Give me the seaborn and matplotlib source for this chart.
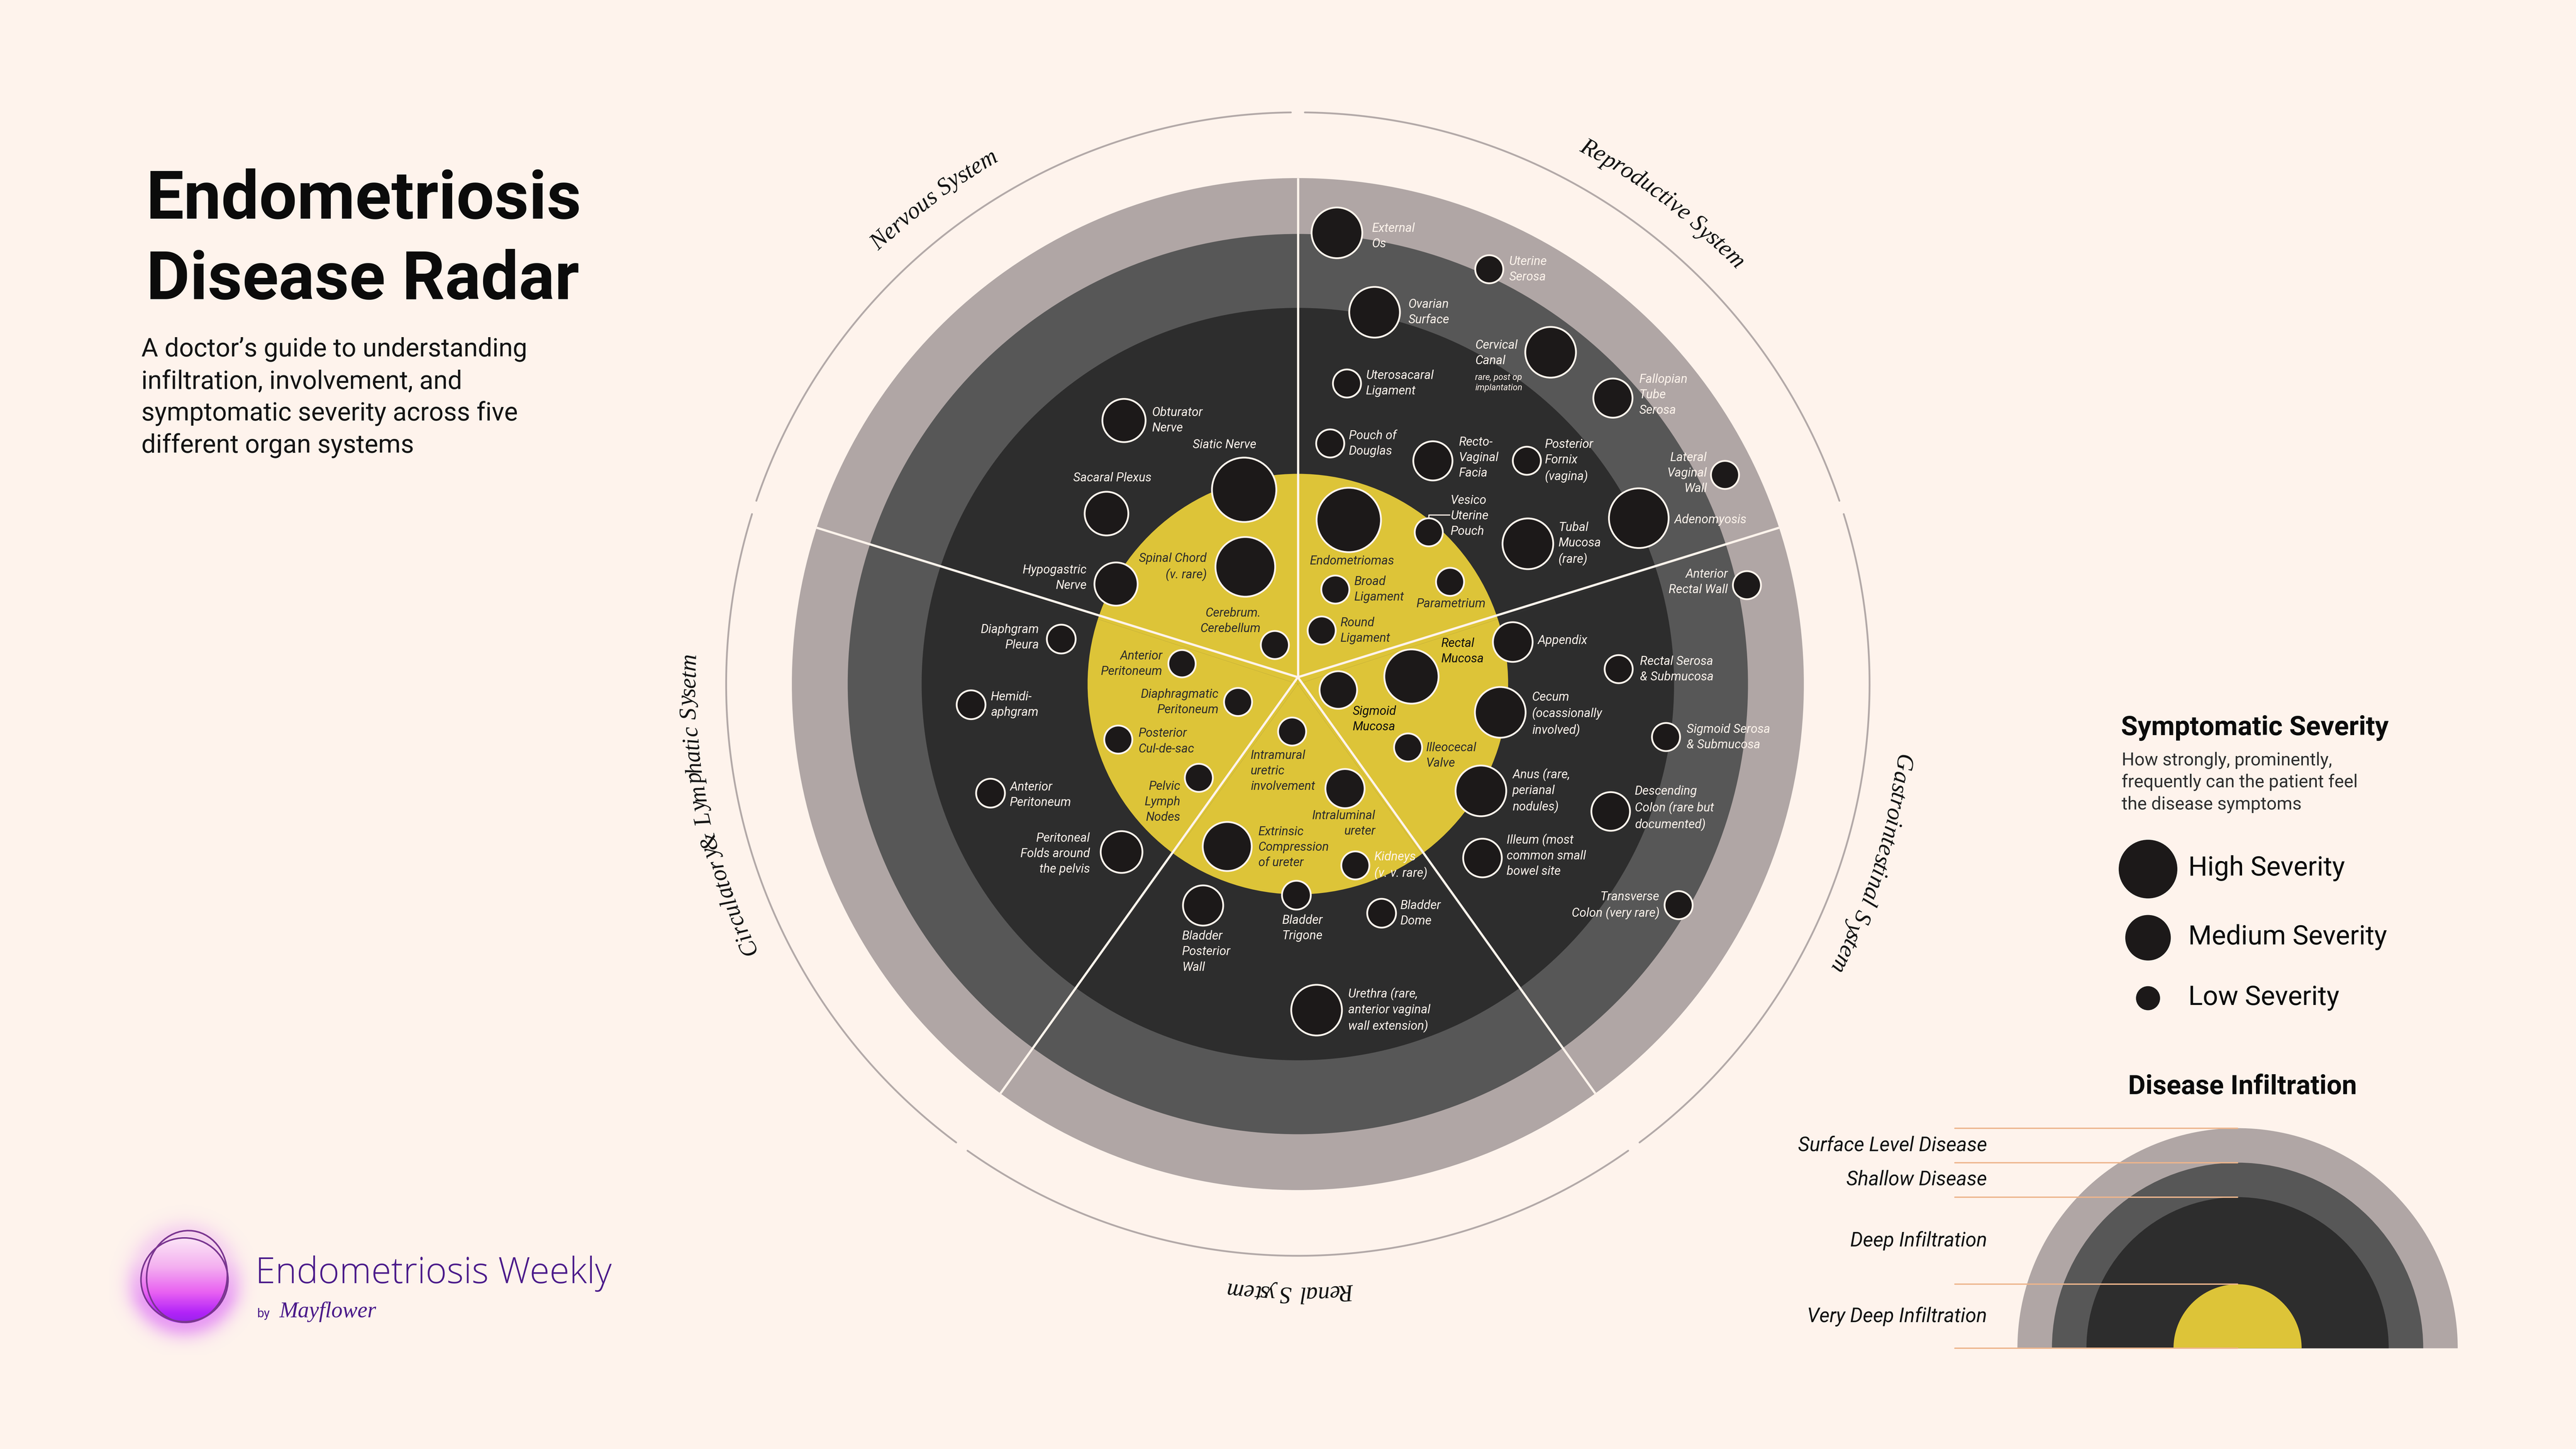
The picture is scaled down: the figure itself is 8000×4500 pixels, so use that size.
import numpy as np
import pandas as pd
import seaborn as sns
import matplotlib.pyplot as plt
from matplotlib.patches import Wedge, Ellipse
from matplotlib.font_manager import FontProperties, findfont, get_font

sns.set_theme(style="white")
plt.rcParams["font.family"] = ["Roboto", "DejaVu Sans"]

# layout units: the figure is 16 x 9 in, described on a 1568 x 882 grid
W, H = 1568, 882
PT = 16 * 72 / W  # points per layout unit

BG = "#FEF3EC"
LIGHT = "#B0A6A5"
MID = "#575757"
DARK = "#2D2D2D"
YELLOW = "#DDC438"
BUBBLE = "#1C1919"
CREAM = "#FFF4EC"
INK = "#0B0B0B"
PURPLE = "#4B1A8A"

# ---------------- data ----------------
systems = ["Reproductive System", "Nervous System", "Circulatory& Lymphatic Sysetm",
           "Renal System", "Gastrointestinal System"]
system_start = [18, 90, 162, 234, 306]          # degrees, each system spans 72
system_label_theta = [52.8, 126.9, 191.7, 269.2, 342.6]

depth_levels = ["Surface Level Disease", "Shallow Disease", "Deep Infiltration",
                "Very Deep Infiltration"]
depth_radius = [308, 274, 229, 128]
depth_colors = [LIGHT, MID, DARK, YELLOW]

organ = [
    "External\nOs", "Uterine\nSerosa", "Ovarian\nSurface", "Cervical\nCanal",
    "Fallopian\nTube\nSerosa", "Uterosacaral\nLigament", "Pouch of\nDouglas",
    "Recto-\nVaginal\nFacia", "Posterior\nFornix\n(vagina)", "Lateral\nVaginal\nWall",
    "Adenomyosis", "Tubal\nMucosa\n(rare)", "Endometriomas", "Vesico\nUterine\nPouch",
    "Broad\nLigament", "Parametrium", "Round\nLigament",
    "Anterior\nRectal Wall", "Rectal\nMucosa", "Sigmoid\nMucosa", "Appendix",
    "Rectal Serosa\n& Submucosa", "Cecum\n(ocassionally\ninvolved)", "Illeocecal\nValve",
    "Sigmoid Serosa\n& Submucosa", "Anus (rare,\nperianal\nnodules)",
    "Descending\nColon (rare but\ndocumented)", "Illeum (most\ncommon small\nbowel site",
    "Transverse\nColon (very rare)",
    "Intramural\nuretric\ninvolvement", "Intraluminal\nureter",
    "Extrinsic\nCompression\nof ureter", "Kidneys\n(v. v. rare)",
    "Bladder\nPosterior\nWall", "Bladder\nTrigone", "Bladder\nDome",
    "Urethra (rare,\nanterior vaginal\nwall extension)",
    "Diaphgram\nPleura", "Anterior\nPeritoneum", "Diaphragmatic\nPeritoneum",
    "Hemidi-\naphgram", "Posterior\nCul-de-sac", "Pelvic\nLymph\nNodes",
    "Anterior\nPeritoneum", "Peritoneal\nFolds around\nthe pelvis",
    "Obturator\nNerve", "Siatic Nerve", "Sacaral Plexus", "Spinal Chord\n(v. rare)",
    "Hypogastric\nNerve", "Cerebrum.\nCerebellum",
]
organ_system = (["Reproductive System"] * 17 + ["Gastrointestinal System"] * 12 +
                ["Renal System"] * 8 + ["Circulatory& Lymphatic Sysetm"] * 8 +
                ["Nervous System"] * 6)
organ_theta = [
    85.05, 65.23, 78.34, 52.70, 42.23, 80.72, 82.34, 58.83, 44.28, 26.09,
    25.95, 31.38, 72.76, 49.22, 68.37, 33.89, 66.02,
    12.42, 3.81, -8.33, 11.07, 2.67, -7.95, -29.91, -8.18, -30.26, -22.15, -43.29, -30.14,
    263.1, 294.29, 246.50, 287.59, 246.83, 269.6, 290.08, 273.29,
    169.23, 170.02, 196.67, 183.62, 197.18, 223.44, 199.54, 223.61,
    123.41, 105.45, 138.30, 114.14, 151.18, 120.47,
]
organ_depth = [
    275.7, 278.1, 231.1, 253.9, 259.0, 185.4, 147.8, 158.8, 194.7, 289.5,
    230.8, 164.0, 104.6, 122.0, 61.9, 111.6, 35.7,
    279.9, 69.3, 24.9, 133.3, 195.5, 124.4, 77.4, 226.4, 129.0, 205.6, 154.4, 268.0,
    29.1, 69.8, 107.8, 115.8, 146.6, 128.5, 148.5, 198.8,
    146.6, 71.6, 38.0, 199.3, 114.4, 83.0, 198.5, 148.2,
    192.2, 122.7, 156.0, 78.2, 126.3, 27.6,
]
organ_severity = [
    62, 19, 62, 62, 37, 19, 19, 37, 19, 19,
    86, 62, 100, 19, 19, 19, 19,
    19, 71, 34, 38, 19, 62, 19, 19, 62, 36, 36, 19,
    19, 37, 58, 19, 39, 20, 20, 62,
    20, 18, 19, 20, 19, 19, 20, 42,
    45, 100, 46, 86, 45, 19,
]

severity_levels = ["High Severity", "Medium Severity", "Low Severity"]
severity_legend = [83, 50, 14]
legend_radius = [134, 113, 92, 39]

# label placement: offset from bubble centre (layout units, y down), alignment, tone
label_layout = [
    (21.4, 2, "left", "light"), (12, 0, "left", "light"), (20.5, 0, "left", "light"),
    (-45.9, 0.5, "left", "light"), (16, -2, "left", "light"), (11.5, 0, "left", "light"),
    (11.3, 0, "left", "light"), (15.8, -2, "left", "light"), (11, 0, "left", "light"),
    (-11, -1, "right", "light"), (21.6, 1, "left", "light"), (18.7, 0, "left", "light"),
    (2, 25, "center", "dark"), (13.3, -10, "left", "light"), (11.5, 0, "left", "dark"),
    (0.6, 13.4, "center", "dark"), (11.4, 0, "left", "dark"),
    (-11.6, -2, "right", "light"), (18.2, -15.3, "left", "black"),
    (8.7, 17.8, "left", "black"), (15.2, -1, "left", "light"), (13, 0, "left", "light"),
    (19.3, 1, "left", "light"), (11, 5, "left", "dark"), (12.6, 0, "left", "light"),
    (19.2, 0, "left", "light"), (14.7, -2, "left", "light"), (14.7, -1.6, "left", "light"),
    (-11.6, 0, "right", "light"),
    (-25.3, 24, "left", "dark"), (18.4, 21.2, "right", "dark"), (19, 0.5, "left", "dark"),
    (11.5, 0, "left", "light"), (-12.8, 28.2, "left", "light"), (-8.7, 20, "left", "light"),
    (11.4, 0, "left", "light"), (19.3, 0, "left", "light"),
    (-13.5, -1, "right", "light"), (-11.9, 0, "right", "dark"), (-11.7, 0, "right", "dark"),
    (12, 0, "left", "light"), (12.3, 1, "left", "dark"), (-11.2, 14.6, "right", "dark"),
    (11.8, 1, "left", "light"), (-19.2, 1, "right", "light"),
    (17, 0, "left", "light"), (-12, -27.3, "center", "light"), (3.6, -21.6, "center", "light"),
    (-23.5, 0, "right", "dark"), (-17.8, -3.8, "right", "light"), (-8.5, -14.6, "right", "dark"),
]
tones = {"light": CREAM, "dark": "#2B2B2B", "black": "#0D0D0D"}

df = pd.DataFrame({"organ": organ, "system": organ_system,
                   "theta": np.deg2rad(organ_theta), "depth": organ_depth,
                   "severity": organ_severity})

# ---------------- figure ----------------
fig = plt.figure(figsize=(16, 9), dpi=500, facecolor=BG)
bg = fig.add_axes([0, 0, 1, 1])
bg.axis("off")

R_MAX = 390
cx, cy = 790, 416.4
ax = fig.add_axes([(cx - R_MAX) / W, 1 - (cy + R_MAX) / H, 2 * R_MAX / W, 2 * R_MAX / H],
                  projection="polar")
ax.set_facecolor("none")
ax.axis("off")

sector_mid = np.deg2rad(np.array(system_start) + 36)
for rad, col in zip(depth_radius, depth_colors):
    ax.bar(sector_mid, rad, width=np.deg2rad(72), bottom=0, color=col,
           edgecolor="none", linewidth=0, zorder=1)

# spokes between systems
hub_t, hub_r = np.pi / 2, 4.2
for b in system_start:
    ax.plot([hub_t, np.deg2rad(b)], [hub_r, depth_radius[0]], color=CREAM, lw=1.0,
            solid_capstyle="butt", zorder=3)

# outer thin arcs with small gaps
for b in system_start:
    t = np.deg2rad(np.linspace(b + 0.7, b + 72 - 0.7, 200))
    ax.plot(t, np.full_like(t, 348), color="#B3A9A8", lw=0.8, zorder=2)

# curved system names, one glyph at a time
fp_sys = FontProperties(family=["Liberation Serif", "DejaVu Serif"], style="italic", size=10.6)
ft_sys = get_font(findfont(fp_sys))
ft_sys.set_size(fp_sys.get_size_in_points(), 72)


def arc_text(s, theta_c, r_base):
    adv = np.array([ft_sys.load_char(ord(c)).linearHoriAdvance / 65536 for c in s]) / PT
    centre = np.cumsum(adv) - adv / 2
    total = adv.sum()
    for ch, c in zip(s, centre):
        if ch == " ":
            continue
        th = np.deg2rad(theta_c) + (total / 2 - c) / r_base
        ax.text(th, r_base, ch, fontproperties=fp_sys, color="#111111",
                rotation=np.rad2deg(th) - 90, rotation_mode="anchor",
                ha="center", va="baseline", zorder=4)


for name, th in zip(systems, system_label_theta):
    arc_text(name, th, 367)

# organ bubbles
sns.scatterplot(data=df, x="theta", y="depth", size="severity", sizes=(0, 829),
                size_norm=(0, 100), color=BUBBLE, edgecolor=CREAM, linewidth=0.8,
                legend=False, ax=ax, zorder=5)

fp_lab = FontProperties(family=["Roboto", "DejaVu Sans"], style="italic", weight="normal", size=5.5)
for k, name in enumerate(organ):
    dx, dy, ha, tone = label_layout[k]
    ax.annotate(name, xy=(df.theta[k], df.depth[k]), xytext=(dx * PT, -dy * PT),
                textcoords="offset points", ha=ha, va="center", fontproperties=fp_lab,
                color=tones[tone], linespacing=1.38, zorder=6)

# small note under Cervical Canal
ax.annotate("rare, post op\nimplantation", xy=(df.theta[3], df.depth[3]),
            xytext=(-45.9 * PT, -18.6 * PT), textcoords="offset points", ha="left",
            va="center", fontproperties=fp_lab, fontsize=3.9, color=CREAM,
            linespacing=1.3, zorder=6)
# leader for Vesico Uterine Pouch
ax.annotate("", xy=(df.theta[13], df.depth[13]), xytext=(12.8 * PT, 10.6 * PT),
            textcoords="offset points",
            arrowprops=dict(arrowstyle="-", color=CREAM, lw=0.5, shrinkA=0,
                            shrinkB=8.6 * PT, connectionstyle="angle,angleA=0,angleB=90,rad=0"),
            zorder=6)

ax.set_xlim(0, 2 * np.pi)
ax.set_ylim(0, R_MAX)

# ---------------- title block ----------------
bg.text(89, 133, "Endometriosis", fontsize=30, weight="bold", color=INK, va="baseline")
bg.text(89, 182, "Disease Radar", fontsize=30, weight="bold", color=INK, va="baseline")
sub = ["A doctor\u2019s guide to understanding", "infiltration, involvement, and",
       "symptomatic severity across five", "different organ systems"]
for i, line in enumerate(sub):
    bg.text(86, 217 + 19.5 * i, line, fontsize=11.5, color="#141414", va="baseline")

# ---------------- severity legend ----------------
bg.text(1291, 447.5, "Symptomatic Severity", fontsize=12.1, weight="bold", color=INK,
        va="baseline")
leg_sub = ["How strongly, prominently,", "frequently can the patient feel",
           "the disease symptoms"]
for i, line in enumerate(leg_sub):
    bg.text(1291.5, 465.7 + 13.5 * i, line, fontsize=8.0, color="#2E2E2E", va="baseline")
leg_y = [529, 570.8, 607.6]
leg = pd.DataFrame({"x": [1307.5] * 3, "y": leg_y, "severity": severity_legend})
sns.scatterplot(data=leg, x="x", y="y", size="severity", sizes=(0, 829), size_norm=(0, 100),
                color=BUBBLE, edgecolor="none", linewidth=0, legend=False, ax=bg, zorder=3)
for name, yb in zip(severity_levels, [533, 574.8, 611.8]):
    bg.text(1332, yb, name, fontsize=12, color=INK, va="baseline")

# ---------------- infiltration legend ----------------
bg.text(1365, 666, "Disease Infiltration", fontsize=12, weight="bold", color=INK,
        ha="center", va="baseline")
icx, icy = 1362, 820.7
for rad, col in zip(legend_radius, depth_colors):
    bg.add_patch(Wedge((icx, icy), rad, 180, 360, color=col, lw=0, zorder=2))
tops = [icy - r for r in legend_radius] + [icy]
for yl in tops:
    bg.plot([1190, icx], [yl, yl], color="#EDB58C", lw=0.6, zorder=3)
fp_inf = FontProperties(family=["Roboto", "DejaVu Sans"], style="italic", weight="normal", size=8.9)
for i, name in enumerate(depth_levels):
    bg.text(1209.5, (tops[i] + tops[i + 1]) / 2, name, fontproperties=fp_inf, color="#121212",
            ha="right", va="center")

# ---------------- logo ----------------
lx, ly, lr = 112.3, 779, 26.5
n = 400
half = 46
gx, gy = np.meshgrid(np.linspace(lx - half, lx + half, n), np.linspace(ly - half, ly + half, n))
dist = np.hypot(gx - lx, gy - ly)
t = np.clip((gy - (ly - lr)) / (2 * lr), 0, 1)
stops = np.array([0, 0.35, 0.65, 0.88, 1.0])
cols = np.array([[252, 232, 247], [244, 176, 240], [232, 96, 242], [178, 36, 248], [150, 34, 236]]) / 255
rgb = np.stack([np.interp(t, stops, cols[:, c]) for c in range(3)], axis=-1)
inside = np.clip((lr - dist) * 4 + 0.5, 0, 1)
glow_strength = 0.3 + 0.45 * np.clip((gy - ly) / lr + 0.5, 0, 1)
glow = glow_strength * np.exp(-np.clip(dist - lr, 0, None) ** 2 / (2 * 6.5 ** 2))
glow_rgb = np.array([226, 130, 246]) / 255
alpha = inside + (1 - inside) * glow
rgb_out = rgb * inside[..., None] + glow_rgb * (1 - inside[..., None])
img = np.dstack([rgb_out, alpha])
bg.imshow(img, extent=(lx - half, lx + half, ly + half, ly - half), origin="upper",
          interpolation="bilinear", zorder=2, aspect="auto")
bg.add_patch(Ellipse((lx, ly), 53, 51, angle=0, fill=False, ec="#7A3690", lw=0.7, zorder=3))
bg.add_patch(Ellipse((lx + 1.5, ly - 2), 49, 56, angle=8, fill=False, ec="#7A3690", lw=0.7, zorder=3))
bg.text(155.5, 781, "Endometriosis Weekly", fontsize=16.2, weight="light", color=PURPLE,
        family=["Open Sans", "DejaVu Sans"], va="baseline")
bg.text(156.5, 801.8, "by", fontsize=5.5, color=PURPLE, va="baseline")
bg.text(170, 801.8, "Mayflower", fontsize=10, style="italic", color=PURPLE,
        family=["Liberation Serif", "DejaVu Serif"], va="baseline")

bg.set_xlim(0, W)
bg.set_ylim(H, 0)

fig.savefig("out.png", dpi=500, facecolor=BG)
